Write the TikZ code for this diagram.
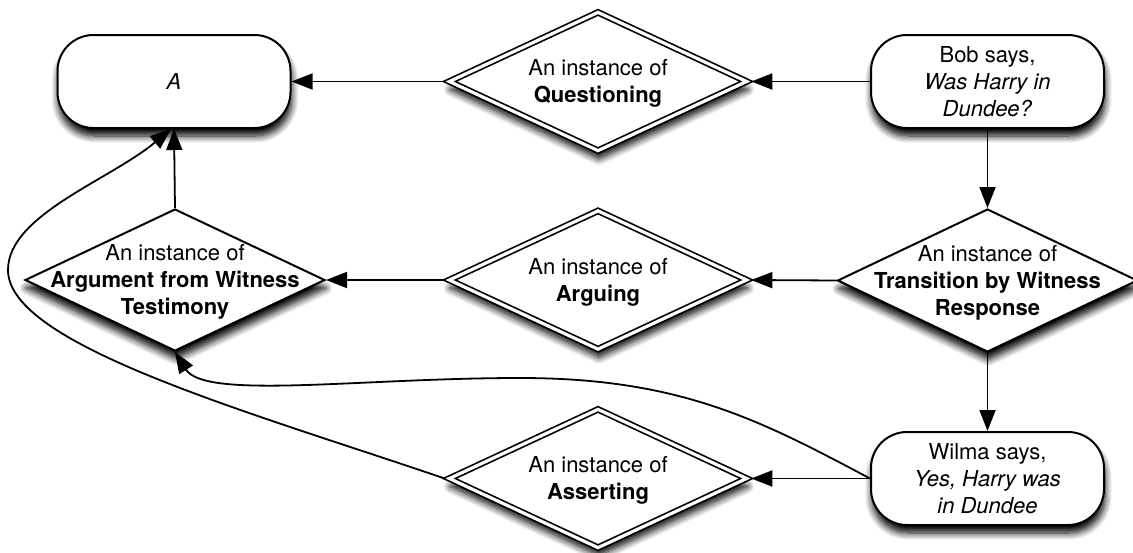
\documentclass[tikz,border=0pt]{standalone}
\usepackage{fontspec}
\setmainfont{TeX Gyre Heros}
\usetikzlibrary{shapes.geometric, arrows.meta, shadows.blur}
\begin{document}
\begin{tikzpicture}[x=1pt, y=-1pt,
  every node/.style={font=\fontsize{22}{27}\selectfont},
  soft shadow/.style={blur shadow={shadow xshift=1pt, shadow yshift=-8pt,
      shadow blur radius=7pt, shadow blur steps=8, shadow opacity=100}},
  speech/.style={draw, line width=2pt, fill=white, rounded corners=36pt,
      minimum width=233pt, minimum height=93pt, align=center, inner sep=0pt,
      soft shadow},
  scheme/.style={diamond, draw, line width=2pt, fill=white,
      minimum width=300pt, minimum height=142pt, inner sep=0pt, soft shadow},
  protocol/.style={diamond, draw, line width=1.7pt, double=white,
      double distance=3.2pt, fill=white, minimum width=300pt,
      minimum height=141pt, inner sep=0pt, outer sep=3.3pt, soft shadow},
  diamtext/.style={align=center, yshift=-2pt},
  link/.style={line width=1.8pt, -{Triangle[length=21pt,width=16pt]}},
]
\useasboundingbox (0,0) rectangle (1133,552);

% statements and scheme instances
\node[speech] (A) at (174,81.5) {\textit{A}};
\node[protocol, label={[diamtext]center:An instance of\\\textbf{Questioning}}]
  (quest) at (598,81.5) {};
\node[speech] (bob) at (987.5,81.5)
  {Bob says,\\\textit{Was Harry in}\\\textit{Dundee?}};

\node[scheme, label={[diamtext]center:An instance of\\\textbf{Argument from Witness}\\\textbf{Testimony}}]
  (afwt) at (175,280) {};
\node[protocol, label={[diamtext]center:An instance of\\\textbf{Arguing}}]
  (arg) at (598,280) {};
\node[scheme, minimum height=143pt, label={[diamtext]center:An instance of\\\textbf{Transition by Witness}\\\textbf{Response}}]
  (trans) at (987.5,280.5) {};

\node[protocol, label={[diamtext]center:An instance of\\\textbf{Asserting}}]
  (assert) at (598,478.5) {};
\node[speech] (wilma) at (987.5,478.5)
  {Wilma says,\\\textit{Yes, Harry was}\\\textit{in Dundee}};

% straight connectors
\draw[link] (bob.west) -- (quest.east);
\draw[link] (quest.west) -- (A.east);
\draw[link] (bob.south) -- (trans.north);
\draw[link] (trans.west) -- (arg.east);
\draw[link] (arg.west) -- (afwt.east);
\draw[link] (afwt.north) -- (A.south);
\draw[link] (trans.south) -- (wilma.north);
\draw[link] (wilma.west) -- (assert.east);

% curved connectors
\draw[link] (assert.west) .. controls (250,412) and (8,345) .. (8,270)
  .. controls (8,215) and (110,180) .. ([xshift=-3pt]A.south);
\draw[link] (wilma.west) .. controls (760,420) and (680,378) .. (520,378)
  .. controls (360,378) and (205,400) .. (afwt.south);
\end{tikzpicture}
\end{document}
